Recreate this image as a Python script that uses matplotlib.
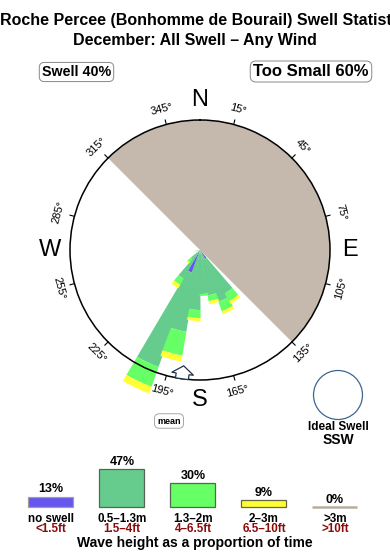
import numpy as np
import matplotlib
matplotlib.use("Agg")
import matplotlib.pyplot as plt
from matplotlib.patches import Polygon, Circle

plt.rcParams['font.family'] = ['Liberation Sans', 'DejaVu Sans']

# ---------------- data ----------------
title_line1 = "Roche Percee (Bonhomme de Bourail) Swell Statistics"
title_line2 = "December: All Swell \u2013 Any Wind"
swell_label = "Swell 40%"
small_label = "Too Small 60%"

directions = [145, 155, 165, 175, 185, 195, 205, 215, 225, 255]
no_swell   = [1.0, 0.0, 0.0, 0.0, 0.0, 0.0, 2.4, 0.0, 0.0, 0.0]
h_05_13    = [4.0, 5.5, 4.6, 4.4, 6.0, 8.3, 10.0, 3.3, 1.2, 0.3]
h_13_2     = [0.9, 1.0, 0.6, 0.2, 0.8, 2.4, 2.1, 0.7, 0.4, 0.15]
h_2_3      = [0.3, 0.3, 0.3, 0.0, 0.3, 0.6, 0.7, 0.4, 0.2, 0.1]
h_gt3      = [0.0, 0.0, 0.0, 0.0, 0.0, 0.0, 0.0, 0.0, 0.0, 0.0]
ring_max = 13.0

shadow_from, shadow_to = 315, 135
mean_direction = 188
ideal_label = "Ideal Swell"
ideal_dir = "SSW"

deg_ticks = [15, 45, 75, 105, 135, 165, 195, 225, 255, 285, 315, 345]
cardinal_names = ['N', 'E', 'S', 'W']
cardinal_deg = [0, 90, 180, 270]

legend_labels = ['no swell', '0.5\u20131.3m', '1.3\u20132m', '2\u20133m', '>3m']
legend_feet = ['<1.5ft', '1.5\u20134ft', '4\u20136.5ft', '6.5\u201310ft', '>10ft']
legend_pct = [13, 47, 30, 9, 0]
legend_caption = "Wave height as a proportion of time"

colors = ['#6655EE', '#66CC8E', '#66FF66', '#FFFF33', '#C4B9AC']
edge_colors = ['#A0A0A0', '#556655', '#556655', '#666644', '#B8ACA0']
shadow_color = '#C4B9AC'
red = '#8A0A0A'

# ---------------- figure ----------------
W, H = 390, 560
fig = plt.figure(figsize=(W / 100, H / 100), dpi=100)
cx, cy, R = 200, 250, 130

ax = fig.add_axes([(cx - R) / W, (H - cy - R) / H, 2 * R / W, 2 * R / H],
                  projection='polar')
ax.set_theta_zero_location('N')
ax.set_theta_direction(-1)
ax.set_ylim(0, ring_max)
ax.set_xticks([])
ax.set_yticks([])
ax.grid(False)
ax.spines['polar'].set_linewidth(1.1)
ax.spines['polar'].set_color('black')

# shadow sector
span = (shadow_to - shadow_from) % 360
ax.bar(np.deg2rad(shadow_from + span / 2), ring_max, width=np.deg2rad(span),
       bottom=0, color=shadow_color, linewidth=0, zorder=1)

# stacked rose
theta = np.deg2rad(directions)
bottom = np.zeros(len(directions))
for vals, col in zip([no_swell, h_05_13, h_13_2, h_2_3, h_gt3], colors):
    v = np.array(vals, dtype=float)
    ax.bar(theta, v, width=np.deg2rad(11), bottom=bottom, color=col,
           linewidth=0, zorder=2, clip_on=False)
    bottom += v

# ticks and degree labels
for b in deg_ticks:
    t = np.deg2rad(b)
    ax.plot([t, t], [ring_max, ring_max * 1.035], color='black', lw=0.8,
            clip_on=False, zorder=3)
    rot = (-b) % 360
    if 90 < rot <= 270:
        rot -= 180
    elif rot > 270:
        rot -= 360
    ax.text(t, ring_max * 1.123, f"{b}\u00b0", rotation=rot, rotation_mode='anchor',
            ha='center', va='center', fontsize=8, clip_on=False)

for name, d in zip(cardinal_names, cardinal_deg):
    ax.text(np.deg2rad(d), ring_max * 1.155, name, ha='center', va='center',
            fontsize=17, clip_on=False)

# ---------------- overlay (pixel coords) ----------------
ov = fig.add_axes([0, 0, 1, 1], zorder=5)
ov.set_xlim(0, W)
ov.set_ylim(H, 0)
ov.axis('off')

ov.text(0.5, 25, title_line1, ha='left', va='baseline', fontsize=11.5, weight='bold')
ov.text(195, 44.5, title_line2, ha='center', va='baseline', fontsize=11.5, weight='bold')

box = dict(boxstyle='round,pad=0.18,rounding_size=0.35', fc='white', ec='#888888', lw=0.7)
ov.text(76.5, 76, swell_label, ha='center', va='baseline', fontsize=10.3,
        weight='bold', bbox=box)
ov.text(311, 76, small_label, ha='center', va='baseline', fontsize=12,
        weight='bold', bbox=box)

# mean arrow
b = np.deg2rad(mean_direction)
out = np.array([np.sin(b), -np.cos(b)])
perp = np.array([np.cos(b), np.sin(b)])
c0 = np.array([cx, cy])
shape = [(130, -6.5), (125, -6.5), (125, -11), (117, 0), (125, 11), (125, 6.5), (130, 6.5)]
pts = [c0 + out * r + perp * s for r, s in shape]
ov.add_patch(Polygon(pts, closed=True, fc='white', ec='#1E3350', lw=0.9, zorder=6))
ov.text(169, 421, "mean", ha='center', va='center', fontsize=6.5, weight='bold',
        bbox=dict(boxstyle='round,pad=0.3,rounding_size=0.5', fc='white',
                  ec='#999999', lw=0.6))

# ideal swell
ov.add_patch(Circle((338, 395), 24.5, fc='white', ec='#3E6690', lw=0.9))
ov.text(338, 430, ideal_label, ha='center', va='baseline', fontsize=8.5, weight='bold')
ov.text(338.5, 443.5, ideal_dir, ha='center', va='baseline', fontsize=10, weight='bold')

# ---------------- legend bars ----------------
x0, dx = 51, 71
lg = fig.add_axes([0, 53 / H, 1, 40 / H])
lg.set_xlim(-x0 / dx, (W - x0) / dx)
lg.set_ylim(0, 50)
lg.axis('off')
xs = np.arange(len(legend_pct))
bars = lg.bar(xs, legend_pct, width=45 / dx, color=colors, edgecolor=edge_colors,
              linewidth=0.9, clip_on=False)
bars[-1].set_linewidth(1.8)
for x, p in zip(xs, legend_pct):
    lg.annotate(f"{p}%", (x, p), xytext=(0, 3), textcoords='offset points',
                ha='center', va='baseline', fontsize=9, weight='bold')

for i, (lab, ft) in enumerate(zip(legend_labels, legend_feet)):
    px = x0 + dx * i
    ov.text(px, 521.5, lab, ha='center', va='baseline', fontsize=8.4, weight='bold')
    ov.text(px, 532, ft, ha='center', va='baseline', fontsize=8.4, weight='bold',
            color=red)
ov.text(195, 547.5, legend_caption, ha='center', va='baseline', fontsize=10,
        weight='bold')

fig.savefig("out.png", dpi=100)
